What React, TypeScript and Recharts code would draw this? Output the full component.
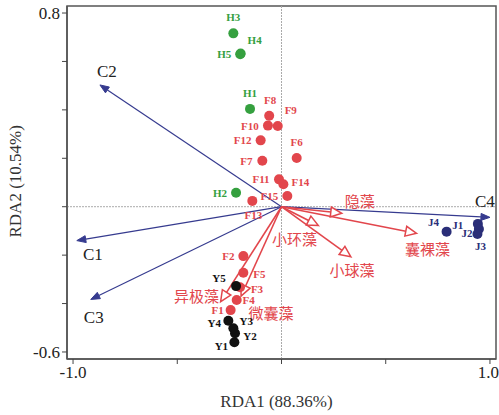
import React from 'react'
import {
  ReferenceArea,
  ReferenceLine,
  Scatter,
  ScatterChart,
  XAxis,
  YAxis,
} from 'recharts'

// sample scores
const hNames = ['H1', 'H2', 'H3', 'H4', 'H5']
const hX = [-0.151, -0.218, -0.231, -0.196, -0.198]
const hY = [0.404, 0.058, 0.716, 0.633, 0.63]

const fNames = ['F1', 'F2', 'F3', 'F4', 'F5', 'F6', 'F7', 'F8', 'F9', 'F10', 'F11', 'F12', 'F13', 'F14', 'F15']
const fX = [-0.244, -0.183, -0.199, -0.215, -0.183, 0.073, -0.092, -0.059, -0.018, -0.065, -0.012, -0.1, -0.14, 0.009, 0.028]
const fY = [-0.427, -0.204, -0.333, -0.385, -0.273, 0.201, 0.19, 0.376, 0.333, 0.335, 0.113, 0.274, 0.024, 0.093, 0.044]

const yNames = ['Y1', 'Y2', 'Y3', 'Y4', 'Y5']
const yX = [-0.226, -0.223, -0.231, -0.255, -0.218]
const yY = [-0.56, -0.523, -0.502, -0.471, -0.328]

const jNames = ['J1', 'J2', 'J3', 'J4']
const jX = [0.942, 0.947, 0.94, 0.792]
const jY = [-0.071, -0.092, -0.113, -0.103]

// environmental vectors
const envNames = ['C1', 'C2', 'C3', 'C4']
const envX = [-0.982, -0.871, -0.915, 1.0]
const envY = [-0.14, 0.503, -0.383, -0.044]

// species vectors
const spNames = ['隐藻', '囊裸藻', '小环藻', '小球藻', '异极藻', '微囊藻']
const spX = [0.289, 0.648, 0.177, 0.333, -0.292, -0.194]
const spY = [-0.027, -0.11, -0.078, -0.207, -0.392, -0.369]

const xTicks = [-1, -0.5, 0, 0.5, 1]
const yTicks = [-0.6, -0.4, -0.2, 0, 0.2, 0.4, 0.6, 0.8]
const xDomain = [-1.029, 1.029]
const yDomain = [-0.629, 0.829]

// label placement (text centre relative to the mark, px)
const pointLabelOffset: Record<string, [number, number]> = {
  H1: [0, -16], H2: [-16, 0], H3: [0, -16], H4: [14, -13], H5: [-16, 0],
  F1: [-13, 0], F2: [-15, 0], F3: [17, 2], F4: [12, 0], F5: [16, 1],
  F6: [0, -16], F7: [-16, 0], F8: [1, -16], F9: [13, -16], F10: [-18, 0],
  F11: [-18, 0], F12: [-18, 0], F13: [1, 14], F14: [17, -2], F15: [-18, 0],
  Y1: [-13, 4], Y2: [15, 3], Y3: [13, -7], Y4: [-14, 2], Y5: [-17, -8],
  J1: [-20, 1], J2: [-12, 4], J3: [3, 12], J4: [-13, -10],
}
const envLabelOffset: Record<string, [number, number]> = {
  C1: [16, 14], C2: [7, -13], C3: [3, 18], C4: [-5, -16],
}
const spLabelOffset: Record<string, [number, number]> = {
  隐藻: [18, -13], 囊裸藻: [11, 15], 小环藻: [-24, 13], 小球藻: [1, 13], 异极藻: [-24, -6], 微囊藻: [30, 16],
}

const toPoints = (names: string[], xs: number[], ys: number[]) =>
  names.map((name, i) => ({ name, x: xs[i], y: ys[i] }))

const BLUE = '#363b8f'
const RED = '#e2464c'

const serif = '"Liberation Serif", "Times New Roman", serif'
const cjk = '"Noto Sans CJK SC", sans-serif'

function dotShape(color: string) {
  return (props: any) => {
    const { cx, cy, payload } = props
    const off = pointLabelOffset[payload.name] || [0, -14]
    return (
      <g>
        <circle cx={cx} cy={cy} r={5} fill={color} />
        <text
          x={cx + off[0]}
          y={cy + off[1]}
          textAnchor='middle'
          dominantBaseline='central'
          fontFamily={serif}
          fontWeight='bold'
          fontSize={11}
          fill={color}
        >
          {payload.name}
        </text>
      </g>
    )
  }
}

function arrowShape(name: string, kind: 'env' | 'sp') {
  return (props: any) => {
    const { x1, y1, x2, y2 } = props
    const dx = x2 - x1
    const dy = y2 - y1
    const len = Math.sqrt(dx * dx + dy * dy) || 1
    const ux = dx / len
    const uy = dy / len
    const headLen = kind === 'env' ? 9 : 11
    const headW = kind === 'env' ? 3.5 : 5
    const bx = x2 - ux * headLen
    const by = y2 - uy * headLen
    const p1 = `${x2},${y2}`
    const p2 = `${bx - uy * headW},${by + ux * headW}`
    const p3 = `${bx + uy * headW},${by - ux * headW}`
    const color = kind === 'env' ? BLUE : RED
    const off = kind === 'env' ? envLabelOffset[name] : spLabelOffset[name]
    return (
      <g>
        <line x1={x1} y1={y1} x2={bx} y2={by} stroke={color} strokeWidth={kind === 'env' ? 1.2 : 1.6} />
        <polygon
          points={`${p1} ${p2} ${p3}`}
          fill={kind === 'env' ? color : '#fff'}
          stroke={color}
          strokeWidth={kind === 'env' ? 1 : 1.5}
        />
        <text
          x={x2 + off[0]}
          y={y2 + off[1]}
          textAnchor='middle'
          dominantBaseline='central'
          fontFamily={kind === 'env' ? serif : cjk}
          fontSize={kind === 'env' ? 17 : 15}
          fill={kind === 'env' ? '#222' : RED}
        >
          {name}
        </text>
      </g>
    )
  }
}

export default function App() {
  return (
    <div style={{ position: 'absolute', left: 0, top: 0, background: '#fff' }}>
      <ScatterChart
        width={499}
        height={415}
        margin={{ top: 6, right: 3, left: 0, bottom: 0 }}
        style={{ fontFamily: serif }}
      >
        <XAxis
          type='number'
          dataKey='x'
          domain={xDomain}
          ticks={xTicks}
          allowDataOverflow
          height={56}
          tickSize={5}
          tickLine={{ stroke: '#444' }}
          axisLine={{ stroke: '#555', strokeWidth: 1.5 }}
          tick={{ fill: '#222', fontSize: 17, fontFamily: serif }}
          tickFormatter={(v: number) => (v === -1 ? '-1.0' : v === 1 ? '1.0' : '')}
          label={{
            value: 'RDA1 (88.36%)',
            position: 'insideBottom',
            offset: 8,
            dx: -5,
            fill: '#333',
            fontSize: 17,
            fontFamily: serif,
          }}
        />
        <YAxis
          type='number'
          dataKey='y'
          domain={yDomain}
          ticks={yTicks}
          allowDataOverflow
          width={67}
          tickSize={5}
          tickLine={{ stroke: '#444' }}
          axisLine={{ stroke: '#555', strokeWidth: 1.5 }}
          tick={{ fill: '#222', fontSize: 17, fontFamily: serif }}
          tickFormatter={(v: number) => (v === 0.8 ? '0.8' : v === -0.6 ? '-0.6' : '')}
          label={{
            value: 'RDA2 (10.54%)',
            angle: -90,
            position: 'insideLeft',
            offset: 15,
            dy: 55,
            fill: '#333',
            fontSize: 17,
            fontFamily: serif,
          }}
        />
        <ReferenceArea
          x1={xDomain[0]}
          x2={xDomain[1]}
          y1={yDomain[0]}
          y2={yDomain[1]}
          fill='none'
          stroke='#555'
          strokeWidth={1.5}
          ifOverflow='visible'
        />
        <ReferenceLine x={0} stroke='#aaa' strokeDasharray='2 1' />
        <ReferenceLine y={0} stroke='#aaa' strokeDasharray='2 1' />
        {envNames.map((n, i) => (
          <ReferenceLine
            key={n}
            segment={[{ x: 0, y: 0 }, { x: envX[i], y: envY[i] }]}
            ifOverflow='visible'
            shape={arrowShape(n, 'env')}
          />
        ))}
        {spNames.map((n, i) => (
          <ReferenceLine
            key={n}
            segment={[{ x: 0, y: 0 }, { x: spX[i], y: spY[i] }]}
            ifOverflow='visible'
            shape={arrowShape(n, 'sp')}
          />
        ))}
        <Scatter data={toPoints(hNames, hX, hY)} fill='#35a03f' shape={dotShape('#35a03f')} isAnimationActive={false} />
        <Scatter data={toPoints(fNames, fX, fY)} fill='#e2464c' shape={dotShape('#e2464c')} isAnimationActive={false} />
        <Scatter data={toPoints(yNames, yX, yY)} fill='#111' shape={dotShape('#111')} isAnimationActive={false} />
        <Scatter data={toPoints(jNames, jX, jY)} fill='#2a2e78' shape={dotShape('#2a2e78')} isAnimationActive={false} />
      </ScatterChart>
    </div>
  )
}
